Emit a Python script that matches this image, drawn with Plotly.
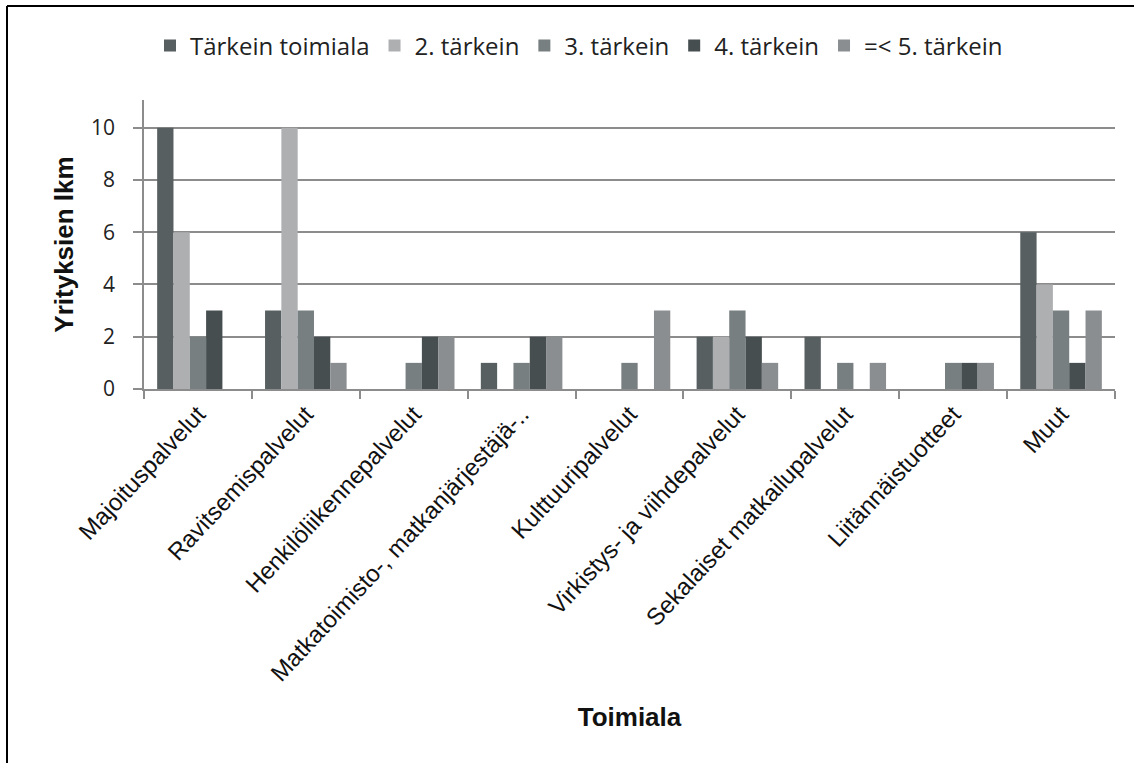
import plotly.graph_objects as go

categories = ["Majoituspalvelut", "Ravitsemispalvelut", "Henkilöliikennepalvelut",
              "Matkatoimisto-, matkanjärjestäjä-..", "Kulttuuripalvelut",
              "Virkistys- ja viihdepalvelut", "Sekalaiset matkailupalvelut",
              "Liitännäistuotteet", "Muut"]
series_names = ["Tärkein toimiala", "2. tärkein", "3. tärkein", "4. tärkein", "=< 5. tärkein"]
tarkein = [10, 3, 0, 1, 0, 2, 2, 0, 6]
tarkein2 = [6, 10, 0, 0, 0, 2, 0, 0, 4]
tarkein3 = [2, 3, 1, 1, 1, 3, 1, 1, 3]
tarkein4 = [3, 2, 2, 2, 0, 2, 0, 1, 1]
tarkein5 = [0, 1, 2, 2, 3, 1, 1, 1, 3]
y_ticks = [0, 2, 4, 6, 8, 10]

values = [tarkein, tarkein2, tarkein3, tarkein4, tarkein5]
colors = ["#575f60", "#aeafb1", "#787f80", "#464e4f", "#8b8e91"]

fig = go.Figure()
for name, vals, col in zip(series_names, values, colors):
    fig.add_trace(go.Bar(x=categories, y=vals, name=name,
                         marker=dict(color=col, line=dict(width=0))))

W, H = 1134, 763
L, R, T, B = 144, 19, 100, 374
pw = W - L - R
ph = H - T - B

def px2x(px):
    return (px - L) / pw

def py2y(py):
    return (H - B - py) / ph

fig.update_layout(
    width=W, height=H,
    margin=dict(l=L, r=R, t=T, b=B, autoexpand=False),
    paper_bgcolor="white", plot_bgcolor="white",
    barmode="group", bargap=0.244, bargroupgap=0,
    font=dict(family="Liberation Sans, Arial", color="#111"),
    legend=dict(orientation="h", x=px2x(579), xanchor="center",
                y=py2y(46), yanchor="middle",
                font=dict(family="Open Sans", size=24, color="#222"),
                itemwidth=30, traceorder="normal"),
    xaxis=dict(
        showline=True, linecolor="#8c8c8c", linewidth=1.5,
        ticks="outside", tickson="boundaries", ticklen=8, tickcolor="#8c8c8c", tickwidth=1.5,
        tickangle=-47, tickfont=dict(family="Liberation Sans, Arial", size=24, color="#111"),
        title=dict(text="<b>Toimiala</b>", font=dict(family="Liberation Sans, Arial", size=26, color="#111"),
                   standoff=22),
        automargin=False, showgrid=False,
    ),
    yaxis=dict(
        range=[0, 11.06], tickvals=y_ticks, showline=True, linecolor="#8c8c8c", linewidth=1.5,
        ticks="outside", ticklen=9, tickcolor="#8c8c8c", tickwidth=1.5,
        ticklabelstandoff=14,
        tickfont=dict(family="Open Sans", size=21, color="#222"),
        showgrid=True, gridcolor="#8c8c8c", gridwidth=1.5, zeroline=False,
        title=dict(text="<b>Yrityksien lkm</b>", font=dict(family="Liberation Sans, Arial", size=26, color="#111"),
                   standoff=10),
        automargin=False,
    ),
    shapes=[
        dict(type="line", xref="paper", yref="paper", x0=px2x(7), x1=px2x(1150),
             y0=py2y(6), y1=py2y(6), line=dict(color="black", width=2)),
        dict(type="line", xref="paper", yref="paper", x0=px2x(7), x1=px2x(7),
             y0=py2y(6), y1=py2y(780), line=dict(color="black", width=2)),
    ],
)

fig.write_html("out.html", config={"displayModeBar": False},
               post_script="document.body.style.margin='0';")
